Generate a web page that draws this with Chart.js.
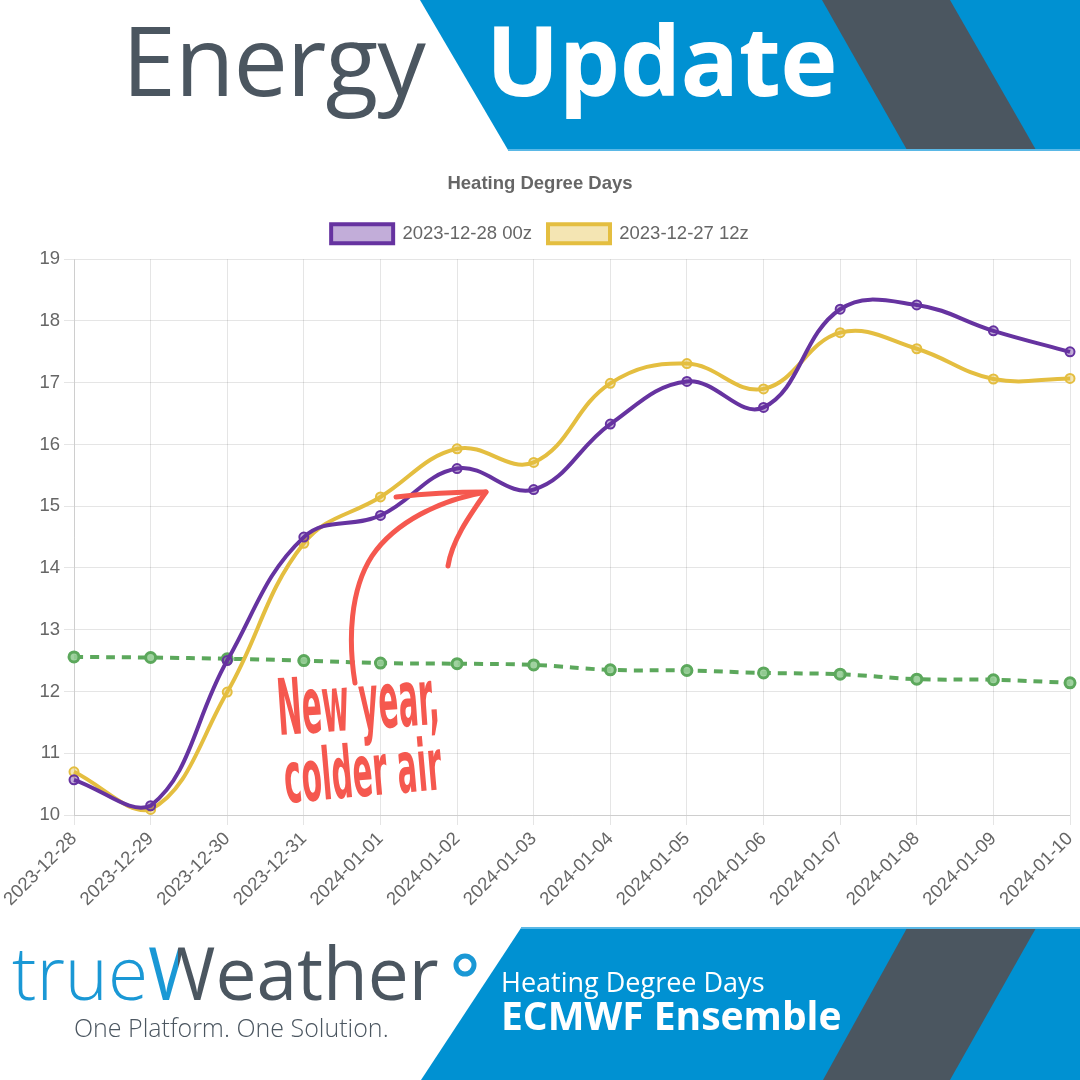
<!DOCTYPE html>
<html>
<head>
<meta charset="utf-8">
<script src="https://cdn.jsdelivr.net/npm/chart.js@4/dist/chart.umd.min.js"></script>
<style>
  html, body { margin: 0; padding: 0; background: #fff; }
  body { width: 1080px; height: 1080px; position: relative; overflow: hidden; font-family: "Open Sans", sans-serif; }
  .bg { position: absolute; left: 0; top: 0; }
  #chartBox { position: absolute; left: 0; top: 160px; width: 1080px; height: 755px; }
  .energy { position: absolute; left: 122px; top: -8px; font-size: 97px; color: #4b5660; font-weight: 400; letter-spacing: -1px; }
  .update { position: absolute; left: 486px; top: -8px; font-size: 97px; color: #fff; font-weight: 700; letter-spacing: -0.5px; }
  .logo { position: absolute; left: 12px; top: 935px; font-size: 73px; line-height: 1; white-space: nowrap; }
  .logo .t { color: #1a98d5; font-weight: 300; }
  .logo .w { font-weight: 400; background: linear-gradient(90deg, #1a98d5 0%, #1a98d5 45%, #4b5660 45%); -webkit-background-clip: text; background-clip: text; color: transparent; }
  .logo .e { color: #4b5660; font-weight: 400; }
  .slogan { position: absolute; left: 74px; top: 1010px; font-size: 25px; font-weight: 300; color: #4b5660; white-space: nowrap; }
  .sub1 { position: absolute; left: 501px; top: 963px; font-size: 27px; color: #fff; font-weight: 400; white-space: nowrap; }
  .sub2 { position: absolute; left: 501px; top: 988px; font-size: 39px; color: #fff; font-weight: 700; white-space: nowrap; }
</style>
</head>
<body>
<svg class="bg" width="1080" height="1080" viewBox="0 0 1080 1080">
  <polygon points="420,0 1080,0 1080,150 508,150" fill="#0091d2"/>
  <polygon points="822,0 950,0 1036,150 907,150" fill="#4b5660"/>
  <line x1="508" y1="150" x2="1080" y2="150" stroke="#5ab8e6" stroke-width="2"/>
  <polygon points="521,928 1080,928 1080,1080 421,1080" fill="#0091d2"/>
  <polygon points="907,928 1036,928 950,1080 823,1080" fill="#4b5660"/>
  <line x1="521" y1="928" x2="1080" y2="928" stroke="#5ab8e6" stroke-width="2"/>
</svg>
<div class="energy">Energy</div>
<div class="update">Update</div>
<div id="chartBox"><canvas id="hddChart"></canvas></div>
<div class="logo"><span class="t">true</span><span class="w">W</span><span class="e">eather</span></div>
<svg class="bg" width="1080" height="1080" viewBox="0 0 1080 1080" style="pointer-events:none">
  <circle cx="465" cy="965" r="9" fill="none" stroke="#1a98d5" stroke-width="5"/>
  <!-- hand drawn note -->
  <g fill="#f5584f" font-family="'DejaVu Sans Condensed', 'Liberation Sans Narrow', sans-serif" font-weight="700">
    <text x="279" y="735" font-size="78" textLength="162" lengthAdjust="spacingAndGlyphs" transform="rotate(-4 279 735)">New year,</text>
    <text x="286" y="803" font-size="72" textLength="158" lengthAdjust="spacingAndGlyphs" transform="rotate(-5 286 803)">colder air</text>
  </g>
  <g fill="none" stroke="#f5584f" stroke-width="5" stroke-linecap="round" stroke-linejoin="round">
    <path d="M355,683 C348,640 350,590 372,556 C395,522 440,500 486,492"/>
    <path d="M396,497 C430,493 460,492 486,492 C470,515 452,540 448,566"/>
  </g>
</svg>
<div class="slogan">One Platform. One Solution.</div>
<div class="sub1">Heating Degree Days</div>
<div class="sub2">ECMWF Ensemble</div>

<script>
const dates = [
  "2023-12-28", "2023-12-29", "2023-12-30", "2023-12-31", "2024-01-01",
  "2024-01-02", "2024-01-03", "2024-01-04", "2024-01-05", "2024-01-06",
  "2024-01-07", "2024-01-08", "2024-01-09", "2024-01-10"
];
const run00z = [10.57, 10.15, 12.50, 14.50, 14.85, 15.61, 15.27, 16.33, 17.02, 16.60, 18.19, 18.26, 17.84, 17.50];
const run12z = [10.70, 10.09, 11.99, 14.40, 15.15, 15.93, 15.71, 16.99, 17.31, 16.90, 17.81, 17.55, 17.06, 17.07];
const normalHdd = [12.56, 12.55, 12.53, 12.50, 12.46, 12.45, 12.43, 12.35, 12.34, 12.30, 12.28, 12.20, 12.19, 12.14];

const tickColor = "#666";
const chartFont = "'Liberation Sans', Arial, sans-serif";
const fontSize = 18.5;

// a bit of extra room under the legend
const legendGap = {
  id: "legendGap",
  beforeInit(chart) {
    const fit = chart.legend.fit;
    chart.legend.fit = function () {
      fit.bind(chart.legend)();
      this.height += 6;
    };
  },
};

document.addEventListener("DOMContentLoaded", () => {
  const ctx = document.getElementById("hddChart").getContext("2d");

  new Chart(ctx, {
    type: "line",
    plugins: [legendGap],
    data: {
      labels: dates,
      datasets: [
        {
          label: "2023-12-28 00z",
          data: run00z,
          borderColor: "rgb(102, 51, 160)",
          backgroundColor: "rgba(102, 51, 160, 0.4)",
          pointBackgroundColor: "rgba(102, 51, 160, 0.4)",
          borderWidth: 4,
          pointRadius: 4.5,
          pointBorderWidth: 2,
          tension: 0.4,
          fill: false,
        },
        {
          label: "2023-12-27 12z",
          data: run12z,
          borderColor: "rgb(228, 190, 64)",
          backgroundColor: "rgba(228, 190, 64, 0.4)",
          pointBackgroundColor: "rgba(228, 190, 64, 0.4)",
          borderWidth: 4,
          pointRadius: 4.5,
          pointBorderWidth: 2,
          tension: 0.4,
          fill: false,
        },
        {
          label: "Normal",
          data: normalHdd,
          borderColor: "rgb(92, 168, 92)",
          backgroundColor: "rgba(92, 168, 92, 0.4)",
          pointBackgroundColor: "rgba(150, 205, 150, 0.9)",
          borderWidth: 4,
          borderDash: [9, 7],
          pointRadius: 5,
          pointBorderWidth: 3,
          tension: 0.4,
          fill: false,
        },
      ],
    },
    options: {
      responsive: true,
      maintainAspectRatio: false,
      animation: false,
      layout: { padding: { right: 0, left: 0, bottom: 0 } },
      plugins: {
        title: {
          display: true,
          text: "Heating Degree Days",
          color: tickColor,
          font: { family: chartFont, size: fontSize, weight: "bold" },
          padding: { top: 13, bottom: 13 },
        },
        legend: {
          labels: {
            color: tickColor,
            boxWidth: 62,
            boxHeight: 19,
            padding: 16,
            font: { family: chartFont, size: fontSize },
            filter: (item) => item.datasetIndex < 2,
          },
        },
        tooltip: { enabled: false },
      },
      scales: {
        x: {
          afterFit: (scale) => {
            scale.height = 100;
            scale.paddingRight = 10;
          },
          grid: { color: "rgba(0, 0, 0, 0.1)", tickLength: 10 },
          border: { color: "rgba(0, 0, 0, 0.1)" },
          ticks: {
            color: tickColor,
            autoSkip: false,
            font: { family: chartFont, size: fontSize },
            minRotation: 45,
            maxRotation: 45,
          },
        },
        y: {
          min: 10,
          max: 19,
          afterFit: (scale) => { scale.width = 74; },
          grid: { color: "rgba(0, 0, 0, 0.1)", tickLength: 10 },
          border: { color: "rgba(0, 0, 0, 0.1)" },
          ticks: {
            stepSize: 1,
            color: tickColor,
            padding: 4,
            font: { family: chartFont, size: fontSize },
          },
        },
      },
    },
  });
});
</script>
</body>
</html>
